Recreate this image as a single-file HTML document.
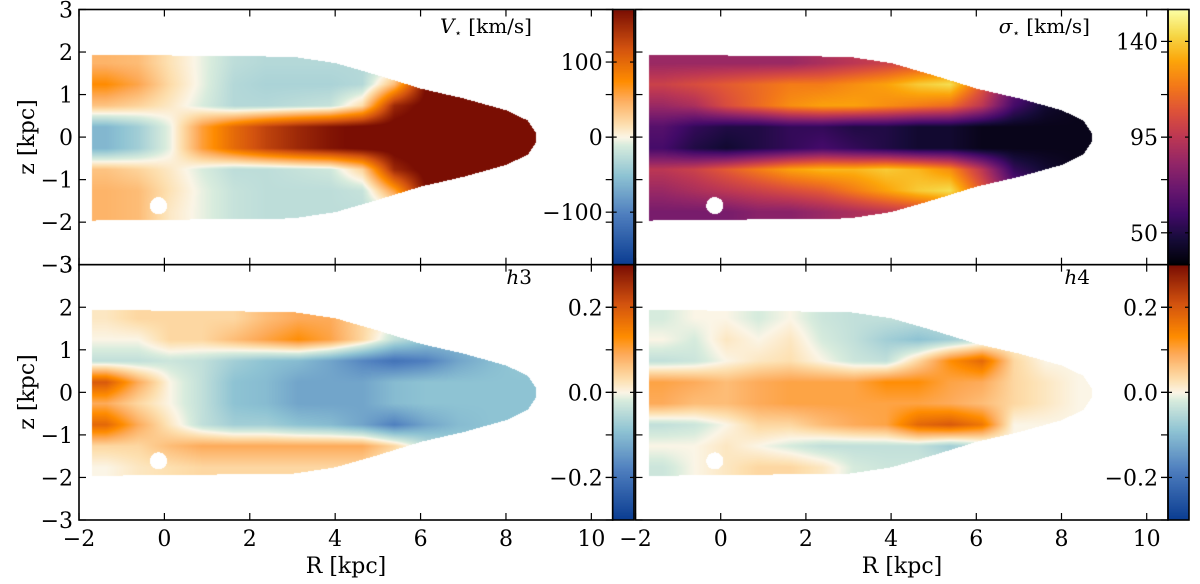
<!DOCTYPE html>
<html><head><meta charset="utf-8">
<style>
html,body{margin:0;padding:0;background:#fff;}
#wrap{position:relative;width:1200px;height:584px;overflow:hidden;}
canvas,svg{position:absolute;left:0;top:0;}
text{font-family:"DejaVu Serif","Liberation Serif",serif;fill:#000;}
</style></head>
<body>
<div id="wrap">
<canvas id="cv" width="1200" height="584"></canvas>
<svg id="sv" width="1200" height="584"></svg>
</div>
<script>
// ---- data ----
const rCenters = [-1.375,-0.625,0.125,0.875,1.625,2.375,3.125,3.875,4.625,5.375,6.125,6.875,7.625,8.375];
const zCenters = [1.75,1.25,0.75,0.25,-0.25,-0.75,-1.25,-1.75];
const outlineR = [-1.7,3,4,5,6,7,8,8.5,8.7];
const outlineZ = [1.95,1.9,1.75,1.46,1.15,0.92,0.64,0.4,0.1];
const holeCenter = [-0.15,-1.6];
const velGrid = [
 [45,40,15,-5,-25,-30,-30,-30,-30,-20,150,170,180,180],
 [75,55,20,-5,-30,-35,-35,-35,-30,40,170,180,185,185],
 [35,25,10,-10,-30,-30,-25,-20,20,150,180,185,185,185],
 [-60,-40,-5,60,100,130,150,165,175,180,185,185,185,185],
 [-60,-40,-5,60,100,130,150,165,175,180,185,185,185,185],
 [35,25,10,-10,-25,-25,-20,-15,25,150,180,185,185,185],
 [45,40,15,-5,-20,-25,-25,-25,-20,60,170,180,185,185],
 [45,40,10,-5,-20,-25,-25,-25,-25,-20,150,170,180,180]];
const sigGrid = [
 [85,85,85,85,85,90,95,100,105,110,90,70,60,55],
 [100,105,110,115,120,120,125,130,140,145,110,70,55,50],
 [85,90,105,115,125,130,130,125,120,115,95,60,45,40],
 [65,55,50,50,55,55,50,50,45,45,40,40,40,40],
 [60,50,45,50,55,60,55,50,45,45,40,40,40,40],
 [95,100,110,120,130,135,135,140,135,125,95,55,45,40],
 [85,90,95,100,105,110,120,130,140,145,110,70,55,50],
 [75,75,75,80,80,85,90,95,100,110,90,70,60,55]];
const h3Grid = [
 [0.02,0.04,0.04,0.04,0.04,0.07,0.09,0.09,0.04,0.0,-0.04,-0.07,-0.08,-0.08],
 [0.0,0.0,0.04,0.04,0.07,0.1,0.13,0.1,0.04,-0.04,-0.08,-0.1,-0.08,-0.08],
 [-0.04,-0.04,-0.03,-0.04,-0.07,-0.09,-0.1,-0.13,-0.17,-0.2,-0.18,-0.13,-0.1,-0.08],
 [0.2,0.09,0.0,-0.04,-0.09,-0.1,-0.13,-0.13,-0.13,-0.1,-0.09,-0.09,-0.09,-0.09],
 [0.09,0.04,0.0,-0.04,-0.09,-0.1,-0.13,-0.13,-0.13,-0.1,-0.09,-0.09,-0.09,-0.09],
 [0.18,0.09,0.02,-0.04,-0.07,-0.07,-0.09,-0.1,-0.13,-0.18,-0.13,-0.1,-0.09,-0.09],
 [0.04,0.04,0.07,0.09,0.09,0.09,0.09,0.09,0.09,0.04,-0.04,-0.07,-0.09,-0.09],
 [0.0,0.02,0.03,0.04,0.04,0.04,0.04,0.04,0.04,0.0,-0.03,-0.04,-0.04,-0.04]];
const h4Grid = [
 [-0.02,0.0,0.0,-0.02,0.0,-0.03,-0.04,-0.04,-0.04,-0.04,-0.03,0,0,0],
 [0.0,-0.02,0.02,0.0,0.02,-0.02,-0.04,-0.07,-0.09,-0.07,-0.04,0,0,0],
 [-0.04,-0.03,0.0,0.02,0.03,0.0,-0.03,-0.04,0.04,0.13,0.18,0.04,0.0,0.0],
 [0.1,0.09,0.07,0.09,0.1,0.1,0.1,0.13,0.13,0.1,0.09,0.04,0.02,0.0],
 [0.09,0.07,0.07,0.09,0.1,0.1,0.1,0.1,0.1,0.09,0.07,0.04,0.02,0.0],
 [-0.04,-0.03,0.0,0.04,0.04,0.07,0.09,0.1,0.18,0.2,0.16,0.0,0.0,0.0],
 [0.0,0.0,0.02,0.0,-0.02,-0.04,-0.04,-0.04,-0.04,-0.07,-0.04,0,0,0],
 [-0.03,0.0,0.02,0.04,0.04,0.02,-0.02,-0.03,-0.03,-0.03,0,0,0,0]];
const xTicks = [-2,0,2,4,6,8,10];
const yTicks = [-3,-2,-1,0,1,2,3];
const velTicks = [-100,0,100];
const sigTicks = [50,95,140];
const hTicks = [-0.2,0.0,0.2];
const hTickLabels = ["\u22120.2","0.0","0.2"];

// ---- colormaps ----
const divStops=[[0,"#0a3c91"],[0.2,"#4f7fbf"],[0.35,"#8ec3d3"],[0.47,"#d8ecdd"],[0.5,"#fbf5e6"],[0.55,"#fde0b0"],[0.65,"#fdab5a"],[0.72,"#ff8c00"],[0.85,"#d2520f"],[1,"#7a0e03"]];
const infStops=[[0,"#000004"],[0.1,"#160b39"],[0.2,"#420a68"],[0.3,"#6a176e"],[0.4,"#932667"],[0.5,"#bc3754"],[0.6,"#dd513a"],[0.7,"#f37819"],[0.8,"#fca50a"],[0.9,"#f6d746"],[1,"#fcffa4"]];
function hex(h){return [parseInt(h.substr(1,2),16),parseInt(h.substr(3,2),16),parseInt(h.substr(5,2),16)];}
function cmap(stops,t){t=Math.max(0,Math.min(1,t));for(let i=1;i<stops.length;i++){if(t<=stops[i][0]){const a=stops[i-1],b=stops[i];const f=(t-a[0])/(b[0]-a[0]);const ca=hex(a[1]),cb=hex(b[1]);return [ca[0]+(cb[0]-ca[0])*f,ca[1]+(cb[1]-ca[1])*f,ca[2]+(cb[2]-ca[2])*f];}}return hex(stops[stops.length-1][1]);}

// ---- layout ----
const panels=[
 {x0:79,x1:612.7,y0:9.5,y1:264.7,grid:velGrid,vmin:-170,vmax:170,stops:divStops,cb:[612.7,634]},
 {x0:635.5,x1:1168,y0:9.5,y1:264.7,grid:sigGrid,vmin:35,vmax:155,stops:infStops,cb:[1168,1189]},
 {x0:79,x1:612.7,y0:264.7,y1:520,grid:h3Grid,vmin:-0.3,vmax:0.3,stops:divStops,cb:[612.7,634]},
 {x0:635.5,x1:1168,y0:264.7,y1:520,grid:h4Grid,vmin:-0.3,vmax:0.3,stops:divStops,cb:[1168,1189]}];
function xs(p,R){return p.x0+(R+2)/12.5*(p.x1-p.x0);}
function ys(p,z){return p.y1-(z+3)/6*(p.y1-p.y0);}
function interp1(xa,ya,x){if(x<=xa[0])return ya[0];for(let i=1;i<xa.length;i++){if(x<=xa[i]){const f=(x-xa[i-1])/(xa[i]-xa[i-1]);return ya[i-1]+(ya[i]-ya[i-1])*f;}}return -1;}
function sample(g,R,z){
 let fi=(R-rCenters[0])/(rCenters[1]-rCenters[0]);fi=Math.max(0,Math.min(rCenters.length-1,fi));
 let fj=(zCenters[0]-z)/(zCenters[0]-zCenters[1]);fj=Math.max(0,Math.min(zCenters.length-1,fj));
 const i0=Math.floor(fi),j0=Math.floor(fj),i1=Math.min(i0+1,rCenters.length-1),j1=Math.min(j0+1,zCenters.length-1);
 const a=fi-i0,b=fj-j0;
 return (g[j0][i0]*(1-a)+g[j0][i1]*a)*(1-b)+(g[j1][i0]*(1-a)+g[j1][i1]*a)*b;}

const cv=document.getElementById('cv');const ctx=cv.getContext('2d');
const img=ctx.createImageData(1200,584);const D=img.data;
for(let k=0;k<1200*584;k++){D[k*4]=255;D[k*4+1]=255;D[k*4+2]=255;D[k*4+3]=255;}
panels.forEach(p=>{
 for(let py=Math.ceil(p.y0);py<p.y1;py++){for(let px=Math.ceil(p.x0);px<p.x1;px++){
  const R=(px-p.x0)/(p.x1-p.x0)*12.5-2;const z=(p.y1-py)/(p.y1-p.y0)*6-3;
  if(R<outlineR[0]||R>outlineR[outlineR.length-1])continue;
  const ze=interp1(outlineR,outlineZ,R);if(Math.abs(z)>ze)continue;
  const dR=R-holeCenter[0],dz=z-holeCenter[1];if(dR*dR+dz*dz<0.04)continue;
  const v=sample(p.grid,R,z);const c=cmap(p.stops,(v-p.vmin)/(p.vmax-p.vmin));
  const k=(py*1200+px)*4;D[k]=c[0];D[k+1]=c[1];D[k+2]=c[2];}}
 for(let py=Math.ceil(p.y0);py<p.y1;py++){const t=(p.y1-py)/(p.y1-p.y0);const c=cmap(p.stops,t);
  for(let px=Math.ceil(p.cb[0]);px<p.cb[1];px++){const k=(py*1200+px)*4;D[k]=c[0];D[k+1]=c[1];D[k+2]=c[2];}}
});
ctx.putImageData(img,0,0);

// ---- overlay ----
const sv=document.getElementById('sv');const NS="http://www.w3.org/2000/svg";
function el(tag,attrs,txt){const e=document.createElementNS(NS,tag);for(const k in attrs)e.setAttribute(k,attrs[k]);if(txt!==undefined)e.textContent=txt;sv.appendChild(e);return e;}
const names=['velocity','dispersion','h3','h4'];
panels.forEach((p,pi)=>{
 let f=el('rect',{x:p.x0,y:p.y0,width:p.x1-p.x0,height:p.y1-p.y0,fill:'none',stroke:'#000','stroke-width':1.6});
 
 
 let cbf=el('rect',{x:p.cb[0],y:p.y0,width:p.cb[1]-p.cb[0],height:p.y1-p.y0,fill:'none',stroke:'#000','stroke-width':1.6});
 
 
 yTicks.forEach(t=>{const y=ys(p,t);
  el('line',{x1:p.x0,x2:p.x0+7,y1:y,y2:y,stroke:'#000','stroke-width':1.2});
  el('line',{x1:p.x1,x2:p.x1-7,y1:y,y2:y,stroke:'#000','stroke-width':1.2});
  if(pi%2===0){const tl=el('text',{x:p.x0-6,y:y+8,'text-anchor':'end','font-size':22},String(t).replace('-','\u2212'));
   
   }
 });
 xTicks.forEach(t=>{const x=xs(p,t);
  el('line',{x1:x,x2:x,y1:p.y1,y2:p.y1-7,stroke:'#000','stroke-width':1.2});
  el('line',{x1:x,x2:x,y1:p.y0,y2:p.y0+7,stroke:'#000','stroke-width':1.2});
  if(pi>=2){const tl=el('text',{x:x,y:p.y1+26,'text-anchor':'middle','font-size':22},String(t).replace('-','\u2212'));
   
   }
 });
 const ct=pi===0?velTicks:(pi===1?sigTicks:hTicks);
 ct.forEach((t,ti)=>{const y=p.y1-(t-p.vmin)/(p.vmax-p.vmin)*(p.y1-p.y0);
  el('line',{x1:p.cb[0]-7,x2:p.cb[0]+4,y1:y,y2:y,stroke:'#000','stroke-width':1.2});
  el('line',{x1:p.cb[1]-4,x2:p.cb[1],y1:y,y2:y,stroke:'#000','stroke-width':1.2});
  const lab=pi>=2?hTickLabels[ti]:String(t).replace('-','\u2212');
  const tl=el('text',{x:p.cb[0]-10,y:y+8,'text-anchor':'end','font-size':22},lab);
  
  
 });
});
function label(x,y,txt,name){const t=el('text',{x:x,y:y,'font-size':20,'text-anchor':'end'});t.innerHTML=txt;
 
 return t;}
label(532,33,'<tspan font-style="italic">V</tspan><tspan font-size="12" dy="4">\u22c6</tspan><tspan dy="-4"> [km/s]</tspan>','velocity-title');
label(1090,33,'<tspan font-style="italic">\u03c3</tspan><tspan font-size="12" dy="4">\u22c6</tspan><tspan dy="-4"> [km/s]</tspan>','dispersion-title');
label(532,284,'<tspan font-style="italic">h</tspan>3','h3-title');
label(1090,284,'<tspan font-style="italic">h</tspan>4','h4-title');
[137,392].forEach(y=>{const t=el('text',{x:0,y:0,'font-size':22,'text-anchor':'middle',transform:'translate(34,'+y+') rotate(-90)'},'z [kpc]');
 
 });
[346,902].forEach(x=>{const t=el('text',{x:x,y:573,'font-size':22,'text-anchor':'middle'},'R [kpc]');
 
 });
</script>
</body></html>
